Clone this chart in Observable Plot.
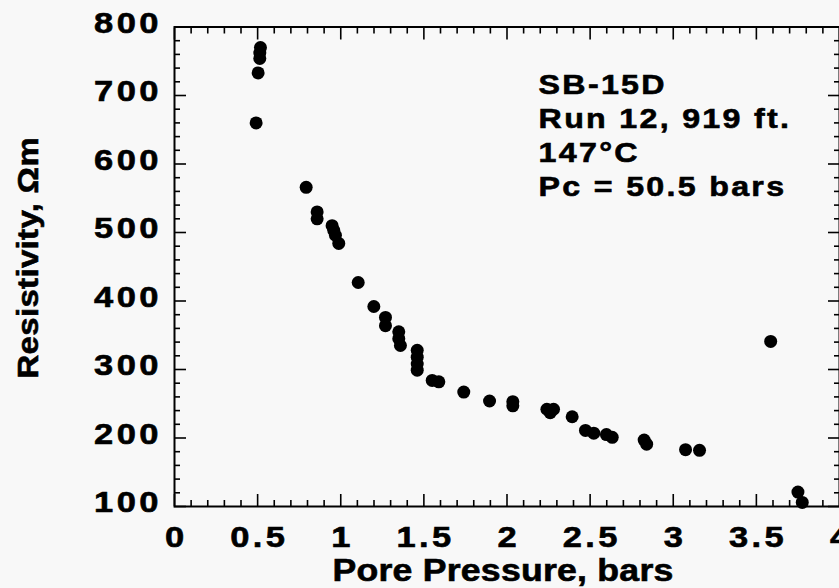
<!DOCTYPE html>
<html><head><meta charset="utf-8">
<script src="https://cdn.jsdelivr.net/npm/d3@7"></script>
<script src="https://cdn.jsdelivr.net/npm/@observablehq/plot@0.6"></script>
<style>html,body{margin:0;padding:0;background:#f8f8f8;overflow:hidden}</style>
</head><body><div id="chart"></div>
<script>
// Data
const pressure = [0.517,0.513,0.513,0.503,0.491,0.792,0.858,0.858,0.948,0.958,0.968,0.988,1.105,1.199,1.269,1.269,1.349,1.349,1.359,1.46,1.46,1.46,1.46,1.55,1.59,1.74,1.895,2.035,2.035,2.24,2.28,2.26,2.392,2.472,2.522,2.598,2.633,2.825,2.84,3.074,3.158,3.586,3.75,3.776];
const resistivity = [770,762,754,733,660,566,530,520,510,503,496,484,427,392,376,364,355,345,335,328,318,308,299,284,282,267,254,253,247,242,242,237,231,211,207,205,201,197,191,183,182,341,121,106];

const xTicks = [0,0.5,1,1.5,2,2.5,3,3.5,4];
const xTickLabels = ["0","0.5","1","1.5","2","2.5","3","3.5","4"];
const yTicks = [100,200,300,400,500,600,700,800];
const yTickLabels = ["100","200","300","400","500","600","700","800"];
const xMinor = [0.1,0.2,0.3,0.4,0.6,0.7,0.8,0.9,1.1,1.2,1.3,1.4,1.6,1.7,1.8,1.9,2.1,2.2,2.3,2.4,2.6,2.7,2.8,2.9,3.1,3.2,3.3,3.4,3.6,3.7,3.8,3.9];
const yMinor = [120,140,160,180,220,240,260,280,320,340,360,380,420,440,460,480,520,540,560,580,620,640,660,680,720,740,760,780];

const xTitle = "Pore Pressure, bars";
const yTitle = "Resistivity, \u03A9m";
const noteLines = ["SB-15D", "Run 12, 919 ft.", "147\u00B0C", "Pc = 50.5 bars"];
const noteX = 2.19, noteY = 737;

const points = pressure.map((p, i) => ({p, r: resistivity[i]}));
const font = "'Liberation Sans', Arial, Helvetica, sans-serif";

const tickAxes = (anchor, k, ticks, size) =>
  (k === "x" ? Plot.axisX : Plot.axisY)(ticks, {anchor, tickSize: -size, tickFormat: () => "", label: null, strokeWidth: 1.6});

const svg = Plot.plot({
  width: 839, height: 588,
  marginLeft: 174, marginRight: 0, marginTop: 26.5, marginBottom: 82,
  style: {background: "#f8f8f8", fontFamily: font, color: "#000", overflow: "visible"},
  x: {domain: [0, 4]},
  y: {domain: [100, 800]},
  marks: [
    tickAxes("bottom", "x", xMinor, 6), tickAxes("bottom", "x", xTicks, 12),
    tickAxes("top", "x", xMinor, 6), tickAxes("top", "x", xTicks, 12),
    tickAxes("left", "y", yMinor, 6), tickAxes("left", "y", yTicks, 12),
    tickAxes("right", "y", yMinor, 6), tickAxes("right", "y", yTicks, 12),
    Plot.axisX(xTicks, {anchor: "bottom", tickSize: 0, tickPadding: 19, fontSize: 30, fontWeight: "bold", dx: 1.7,
      tickFormat: d => xTickLabels[xTicks.indexOf(d)], label: null}),
    Plot.axisY(yTicks, {anchor: "left", tickSize: 0, tickPadding: 12.5, fontSize: 30, fontWeight: "bold", dy: -4,
      tickFormat: d => yTickLabels[yTicks.indexOf(d)], label: null}),
    Plot.frame({stroke: "#000", strokeWidth: 2}),
    Plot.text([xTitle], {text: d => d, frameAnchor: "bottom", textAnchor: "middle", lineAnchor: "bottom", dy: 74, dx: -4, fontSize: 31, fontWeight: "bold"}),
    Plot.text([yTitle], {text: d => d, frameAnchor: "left", textAnchor: "middle", lineAnchor: "bottom", rotate: -90, dx: -137, dy: -9, fontSize: 30, fontWeight: "bold"}),
    Plot.text([noteLines.join("\n")], {text: d => d, x: noteX, y: noteY, textAnchor: "start", lineAnchor: "top", lineHeight: 1.21, fontSize: 28, fontWeight: "bold"}),
    Plot.dot(points, {x: "p", y: "r", r: 6.5, fill: "#000", stroke: "none"})
  ]
});

// widen and thicken the type to match the scanned lettering
function stretch(sel, sx, ls) {
  sel.each(function() {
    let t = this.getAttribute("transform");
    if (!t) {
      const x = this.getAttribute("x") || 0, y = this.getAttribute("y") || 0;
      this.removeAttribute("x"); this.removeAttribute("y");
      t = `translate(${x},${y})`;
    }
    this.setAttribute("transform", `${t} scale(${sx},1)`);
    this.style.letterSpacing = ls + "px";
    this.style.stroke = "#000";
    this.style.strokeWidth = "0.6px";
  });
}
const s = d3.select(svg);
stretch(s.selectAll("g[aria-label='x-axis tick label'] text"), 1.15, 3);
stretch(s.selectAll("g[aria-label='y-axis tick label'] text"), 1.15, 3);
const texts = s.selectAll("g[aria-label='text']").nodes();
stretch(d3.select(texts[0]).selectAll("text"), 1.15, 0.2);
stretch(d3.select(texts[1]).selectAll("text"), 1.1, 0.3);
stretch(d3.select(texts[2]).selectAll("text"), 1.15, 2);
document.getElementById("chart").appendChild(svg);
</script>
</body></html>
